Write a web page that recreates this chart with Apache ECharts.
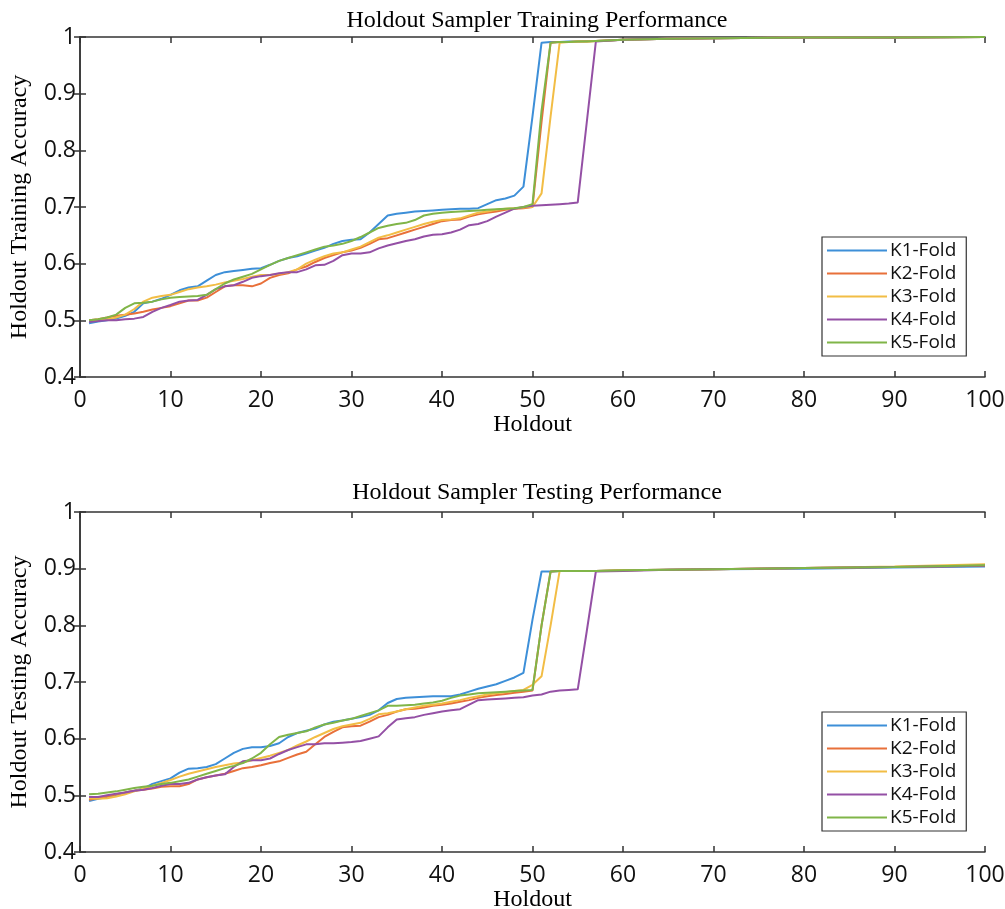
<!DOCTYPE html>
<html>
<head>
<meta charset="utf-8">
<script src="https://cdn.jsdelivr.net/npm/echarts@6/dist/echarts.min.js"></script>
<style>
  html, body { margin: 0; padding: 0; background: #fff; }
  #main { width: 1005px; height: 909px; }
</style>
</head>
<body>
<div id="main"></div>
<script>
// holdout index (x values)
let holdoutX = [1, 2, 3, 4, 5, 6, 7, 8, 9, 10, 11, 12, 13, 14, 15, 16, 17, 18, 19, 20,
  21, 22, 23, 24, 25, 26, 27, 28, 29, 30, 31, 32, 33, 34, 35, 36, 37, 38, 39, 40,
  41, 42, 43, 44, 45, 46, 47, 48, 49, 50, 51, 52, 53, 54, 55, 56, 57, 60, 65, 70, 80, 90, 100];

let foldNames = ['K1-Fold', 'K2-Fold', 'K3-Fold', 'K4-Fold', 'K5-Fold'];
let foldColors = ['#3d8fd8', '#e8703a', '#f2bd45', '#9450a5', '#80b548'];

// training accuracy
let trainK1 = [0.495, 0.498, 0.500, 0.503, 0.508, 0.515, 0.530, 0.533, 0.538, 0.545, 0.553, 0.558, 0.560, 0.570, 0.580, 0.585, 0.587, 0.589, 0.591, 0.592,
  0.598, 0.605, 0.610, 0.613, 0.618, 0.623, 0.628, 0.635, 0.640, 0.642, 0.643, 0.655, 0.670, 0.685, 0.688, 0.690, 0.692, 0.693, 0.694, 0.695,
  0.696, 0.697, 0.697, 0.698, 0.705, 0.712, 0.715, 0.720, 0.736, 0.860, 0.990, 0.991, 0.991, 0.992, 0.992, 0.993, 0.993, 0.995, 0.997, 0.998, 0.999, 0.999, 1.000];
let trainK2 = [0.500, 0.502, 0.505, 0.508, 0.510, 0.512, 0.515, 0.519, 0.522, 0.525, 0.530, 0.535, 0.535, 0.540, 0.550, 0.560, 0.562, 0.562, 0.560, 0.565,
  0.575, 0.580, 0.583, 0.590, 0.595, 0.603, 0.610, 0.615, 0.620, 0.623, 0.628, 0.635, 0.643, 0.645, 0.650, 0.655, 0.660, 0.665, 0.670, 0.675,
  0.677, 0.678, 0.683, 0.687, 0.690, 0.692, 0.695, 0.697, 0.698, 0.700, 0.850, 0.990, 0.991, 0.991, 0.992, 0.992, 0.993, 0.995, 0.997, 0.998, 0.999, 0.999, 1.000];
let trainK3 = [0.500, 0.501, 0.502, 0.505, 0.510, 0.520, 0.533, 0.540, 0.543, 0.545, 0.550, 0.555, 0.558, 0.560, 0.563, 0.567, 0.570, 0.573, 0.577, 0.580,
  0.580, 0.582, 0.585, 0.590, 0.600, 0.607, 0.613, 0.618, 0.620, 0.625, 0.630, 0.638, 0.646, 0.650, 0.655, 0.660, 0.665, 0.670, 0.674, 0.677,
  0.678, 0.680, 0.685, 0.690, 0.692, 0.695, 0.697, 0.698, 0.699, 0.700, 0.724, 0.860, 0.990, 0.991, 0.992, 0.992, 0.993, 0.995, 0.997, 0.998, 0.999, 0.999, 1.000];
let trainK4 = [0.497, 0.499, 0.500, 0.500, 0.502, 0.503, 0.506, 0.515, 0.522, 0.527, 0.533, 0.535, 0.536, 0.545, 0.555, 0.560, 0.562, 0.568, 0.575, 0.578,
  0.580, 0.583, 0.585, 0.585, 0.590, 0.597, 0.598, 0.605, 0.615, 0.618, 0.618, 0.620, 0.627, 0.632, 0.636, 0.640, 0.643, 0.648, 0.651, 0.652,
  0.655, 0.660, 0.668, 0.670, 0.675, 0.683, 0.690, 0.697, 0.700, 0.702, 0.703, 0.704, 0.705, 0.706, 0.708, 0.850, 0.992, 0.995, 0.997, 0.998, 0.999, 0.999, 1.000];
let trainK5 = [0.500, 0.502, 0.505, 0.510, 0.522, 0.530, 0.531, 0.533, 0.537, 0.540, 0.541, 0.542, 0.543, 0.545, 0.555, 0.565, 0.572, 0.577, 0.582, 0.590,
  0.598, 0.605, 0.610, 0.615, 0.620, 0.625, 0.630, 0.632, 0.635, 0.640, 0.647, 0.655, 0.663, 0.667, 0.670, 0.672, 0.677, 0.685, 0.688, 0.690,
  0.691, 0.692, 0.693, 0.694, 0.695, 0.696, 0.697, 0.698, 0.700, 0.705, 0.870, 0.990, 0.991, 0.991, 0.992, 0.992, 0.993, 0.995, 0.997, 0.998, 0.999, 0.999, 1.000];

// testing accuracy
let testK1 = [0.490, 0.494, 0.497, 0.500, 0.505, 0.508, 0.512, 0.520, 0.525, 0.530, 0.540, 0.547, 0.548, 0.550, 0.555, 0.565, 0.575, 0.582, 0.585, 0.585,
  0.587, 0.592, 0.603, 0.610, 0.614, 0.618, 0.625, 0.630, 0.632, 0.635, 0.638, 0.642, 0.650, 0.663, 0.670, 0.672, 0.673, 0.674, 0.675, 0.675,
  0.675, 0.678, 0.683, 0.688, 0.692, 0.696, 0.702, 0.708, 0.716, 0.810, 0.895, 0.895, 0.896, 0.896, 0.896, 0.896, 0.896, 0.897, 0.898, 0.899, 0.900, 0.902, 0.904];
let testK2 = [0.492, 0.495, 0.498, 0.502, 0.505, 0.508, 0.510, 0.512, 0.515, 0.516, 0.516, 0.520, 0.528, 0.532, 0.535, 0.538, 0.543, 0.548, 0.550, 0.553,
  0.557, 0.560, 0.566, 0.572, 0.577, 0.590, 0.603, 0.612, 0.620, 0.622, 0.623, 0.630, 0.638, 0.642, 0.648, 0.652, 0.653, 0.655, 0.658, 0.660,
  0.662, 0.665, 0.668, 0.672, 0.675, 0.677, 0.679, 0.681, 0.683, 0.685, 0.800, 0.895, 0.896, 0.896, 0.896, 0.896, 0.896, 0.897, 0.898, 0.899, 0.901, 0.903, 0.905];
let testK3 = [0.495, 0.494, 0.495, 0.498, 0.502, 0.507, 0.512, 0.517, 0.522, 0.527, 0.533, 0.538, 0.542, 0.546, 0.550, 0.553, 0.556, 0.558, 0.562, 0.566,
  0.570, 0.575, 0.580, 0.588, 0.595, 0.603, 0.610, 0.617, 0.622, 0.625, 0.628, 0.635, 0.643, 0.645, 0.648, 0.652, 0.655, 0.658, 0.660, 0.662,
  0.665, 0.668, 0.672, 0.675, 0.678, 0.680, 0.682, 0.684, 0.686, 0.695, 0.710, 0.800, 0.896, 0.896, 0.896, 0.896, 0.896, 0.897, 0.898, 0.899, 0.901, 0.904, 0.908];
let testK4 = [0.497, 0.497, 0.500, 0.503, 0.505, 0.508, 0.510, 0.513, 0.517, 0.520, 0.520, 0.522, 0.528, 0.532, 0.535, 0.537, 0.550, 0.560, 0.562, 0.562,
  0.565, 0.573, 0.580, 0.585, 0.590, 0.590, 0.592, 0.592, 0.593, 0.594, 0.596, 0.600, 0.604, 0.620, 0.634, 0.636, 0.638, 0.642, 0.645, 0.648,
  0.650, 0.652, 0.660, 0.668, 0.669, 0.670, 0.671, 0.672, 0.673, 0.676, 0.678, 0.683, 0.685, 0.686, 0.687, 0.790, 0.895, 0.896, 0.898, 0.899, 0.901, 0.903, 0.905];
let testK5 = [0.502, 0.503, 0.505, 0.507, 0.510, 0.513, 0.515, 0.517, 0.520, 0.522, 0.525, 0.528, 0.533, 0.538, 0.543, 0.548, 0.552, 0.557, 0.565, 0.575,
  0.590, 0.603, 0.607, 0.610, 0.613, 0.620, 0.625, 0.628, 0.632, 0.635, 0.640, 0.645, 0.650, 0.658, 0.658, 0.659, 0.660, 0.662, 0.664, 0.667,
  0.672, 0.676, 0.678, 0.680, 0.681, 0.682, 0.683, 0.684, 0.685, 0.686, 0.800, 0.895, 0.896, 0.896, 0.896, 0.896, 0.896, 0.897, 0.898, 0.899, 0.901, 0.903, 0.906];

let trainSets = [trainK1, trainK2, trainK3, trainK4, trainK5];
let testSets = [testK1, testK2, testK3, testK4, testK5];

let serif = '"Liberation Serif", "DejaVu Serif", serif';
let sans = '"Open Sans", "Noto Sans", sans-serif';
let axisColor = '#333';

function pairs(values) {
  return holdoutX.map((x, i) => [x, values[i]]);
}

function bottomX(gi) {
  return {
    type: 'value', gridIndex: gi, min: 0, max: 100, interval: 10,
    name: 'Holdout', nameLocation: 'middle', nameGap: 36,
    nameTextStyle: { fontFamily: serif, fontSize: 24, color: '#000' },
    axisLine: { show: true, lineStyle: { color: axisColor, width: 1.5 } },
    axisTick: { show: true, inside: true, length: 6, lineStyle: { color: axisColor, width: 1.5 } },
    axisLabel: { fontFamily: sans, fontSize: 23, color: '#111', margin: 12 },
    splitLine: { show: false }
  }
}
function topX(gi) {
  return {
    type: 'value', gridIndex: gi, position: 'top', min: 0, max: 100, interval: 10,
    axisLine: { show: true, lineStyle: { color: axisColor, width: 1.5 } },
    axisTick: { show: true, inside: true, length: 6, lineStyle: { color: axisColor, width: 1.5 } },
    axisLabel: { show: false },
    splitLine: { show: false }
  }
}
function leftY(gi, name) {
  return {
    type: 'value', gridIndex: gi, min: 0.4, max: 1, interval: 0.1,
    name: name, nameLocation: 'middle', nameGap: 48,
    nameTextStyle: { fontFamily: serif, fontSize: 24, color: '#000' },
    axisLine: { show: true, lineStyle: { color: axisColor, width: 1.5 } },
    axisTick: { show: true, inside: true, length: 6, lineStyle: { color: axisColor, width: 1.5 } },
    axisLabel: {
      fontFamily: sans, fontSize: 23, color: '#111', margin: 4,
      formatter: v => String(Math.round(v * 10) / 10)
    },
    splitLine: { show: false }
  }
}
function rightY(gi) {
  return {
    type: 'value', gridIndex: gi, position: 'right', min: 0.4, max: 1, interval: 0.1,
    axisLine: { show: true, lineStyle: { color: axisColor, width: 1.5 } },
    axisTick: { show: true, inside: true, length: 6, lineStyle: { color: axisColor, width: 1.5 } },
    axisLabel: { show: false },
    splitLine: { show: false }
  }
}

function makeSeries(sets, axisIdx) {
  return sets.map((vals, i) => ({
    name: foldNames[i],
    type: 'line',
    xAxisIndex: axisIdx,
    yAxisIndex: axisIdx,
    data: pairs(vals),
    showSymbol: false,
    symbol: 'none',
    lineStyle: { width: 2, color: foldColors[i] },
    itemStyle: { color: foldColors[i] },
    z: 2 + i
  }))
}

function makeLegend(top) {
  return {
    data: foldNames,
    orient: 'vertical',
    left: 822,
    top: top,
    icon: 'rect',
    itemWidth: 60,
    itemHeight: 2,
    itemGap: 4,
    padding: [4, 10, 4, 5],
    borderColor: '#333',
    borderWidth: 1.2,
    backgroundColor: '#fff',
    textStyle: { fontFamily: sans, fontSize: 19, color: '#111', padding: [0, 0, 0, -2] }
  }
}

let chart = echarts.init(document.getElementById('main'))
let option = {
  animation: false,
  color: foldColors,
  title: [
    { text: 'Holdout Sampler Training Performance', left: 532, top: 4, textAlign: 'center',
      textStyle: { fontFamily: serif, fontSize: 24, fontWeight: 'normal', color: '#000' } },
    { text: 'Holdout Sampler Testing Performance', left: 532, top: 476, textAlign: 'center',
      textStyle: { fontFamily: serif, fontSize: 24, fontWeight: 'normal', color: '#000' } }
  ],
  legend: [makeLegend(237), makeLegend(712)],
  grid: [
    { left: 80, top: 37, width: 905, height: 340, outerBoundsMode: 'none' },
    { left: 80, top: 512, width: 905, height: 340, outerBoundsMode: 'none' }
  ],
  xAxis: [bottomX(0), topX(0), bottomX(1), topX(1)],
  yAxis: [
    leftY(0, 'Holdout Training Accuracy'), rightY(0),
    leftY(1, 'Holdout Testing Accuracy'), rightY(1)
  ],
  series: makeSeries(trainSets, 0).concat(makeSeries(testSets, 2))
}
chart.setOption(option)
</script>
</body>
</html>
